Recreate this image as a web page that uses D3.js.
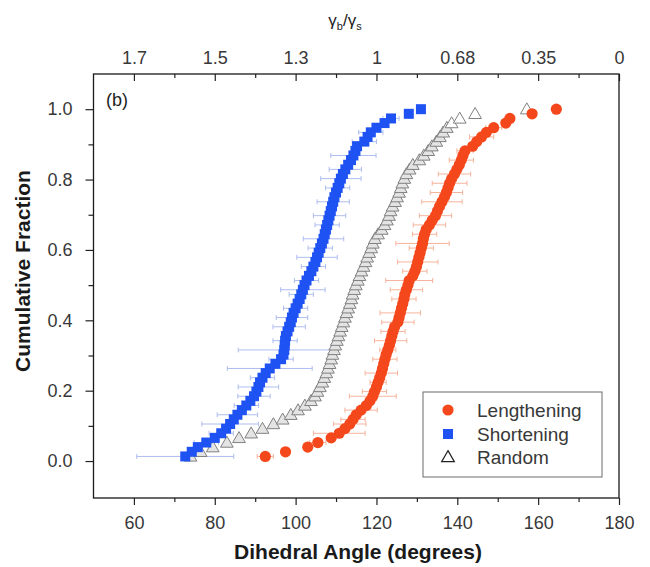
<!DOCTYPE html>
<html>
<head>
<meta charset="utf-8">
<script src="https://cdn.jsdelivr.net/npm/d3@7/dist/d3.min.js"></script>
<style>
  body { margin: 0; background: #fff; }
  svg text { font-family: "Liberation Sans", Arial, Helvetica, sans-serif; }
</style>
</head>
<body>
<svg id="chart" width="650" height="567"></svg>
<script>
// Axis ticks
const angleTicks = [60, 80, 100, 120, 140, 160, 180];
const angleMinorTicks = [70, 90, 110, 130, 150, 170];
const ratioLabels = ["1.7", "1.5", "1.3", "1", "0.68", "0.35", "0"];
const fractionTicks = [0, 0.2, 0.4, 0.6, 0.8, 1.0];
const fractionMinorTicks = [0.1, 0.3, 0.5, 0.7, 0.9];
const seriesNames = ["Lengthening", "Shortening", "Random"];

// Sorted dihedral angles (degrees) for each set of junctions
const lengtheningAngles = [
  92.5, 97.5, 103.0, 105.5, 108.8, 110.8, 112.2, 113.4, 114.2, 115.0,
  116.2, 117.5, 118.4, 119.1, 119.5, 120.0, 120.4, 120.8, 121.2, 121.5,
  121.8, 122.1, 122.4, 122.8, 123.2, 123.5, 123.8, 124.1, 124.5, 125.3,
  125.6, 125.9, 126.2, 126.5, 126.8, 127.0, 127.4, 127.8, 128.1, 129.0,
  129.5, 129.9, 130.2, 130.5, 130.8, 131.1, 131.4, 131.6, 131.9, 132.3,
  133.1, 133.8, 134.6, 135.1, 135.6, 136.2, 136.8, 137.3, 137.7, 138.1,
  138.6, 139.3, 139.9, 140.5, 141.0, 141.4, 141.9, 143.8, 144.8, 146.0,
  147.2, 149.0, 152.0, 153.0, 158.5, 164.5
];
const lengtheningErrors = [
  2, 0, 0, 2, 0, 6.4, 0, 4, 3, 0,
  4, 0, 0, 5.8, 3, 0, 2, 0, 4, 0,
  0, 3, 0, 2, 0, 4, 0, 3, 0, 4,
  0, 5, 0, 0, 3, 0, 4, 0, 5.8, 0,
  3, 0, 5, 0, 0, 3, 6.6, 0, 3, 0,
  4, 0, 4, 0, 0, 5, 0, 4, 0, 4.3,
  0, 4, 0, 0, 3, 0, 2, 0, 0, 3,
  0, 2, 0, 0, 0, 0
];

const shorteningAngles = [
  72.7, 74.3, 75.8, 77.9, 80.0, 81.6, 82.8, 83.8, 84.7, 85.6,
  86.7, 87.8, 88.8, 89.7, 90.3, 90.8, 91.2, 91.8, 92.6, 93.6,
  95.0, 96.4, 97.0, 97.2, 97.3, 97.4, 97.6, 98.0, 98.4, 98.8,
  99.1, 99.5, 100.0, 100.5, 101.0, 101.4, 101.8, 102.2, 102.7, 103.3,
  103.9, 104.4, 104.9, 105.3, 105.7, 106.1, 106.5, 106.9, 107.2, 107.5,
  107.8, 108.1, 108.4, 108.7, 109.0, 109.3, 109.6, 110.0, 110.4, 110.8,
  111.2, 111.7, 112.3, 113.0, 113.7, 114.3, 114.8, 115.2, 117.0, 117.8,
  118.6, 120.0, 122.0, 123.6, 128.0, 131.0
];
const shorteningErrors = [
  12, 0, 0, 3, 0, 3, 0, 7, 0, 5,
  0, 3, 0, 4, 0, 5, 0, 3, 0, 10.5,
  0, 3, 0, 11.4, 0, 3, 0, 0, 4, 0,
  3.9, 0, 3, 0, 0, 3, 5.5, 0, 3, 0,
  0, 3, 0, 5, 0, 3, 0, 5, 0, 0,
  3, 0, 4, 0, 0, 4, 0, 0, 3, 0,
  5, 0, 4, 0, 0, 5.6, 0, 0, 3, 0,
  3, 0, 0, 2, 0, 0
];

const randomAngles = [
  74.0, 76.5, 79.5, 83.0, 86.0, 89.0, 91.8, 94.5, 96.8, 98.8,
  100.6, 102.3, 103.8, 104.8, 105.4, 106.0, 106.6, 107.1, 107.6, 108.0,
  108.4, 108.8, 109.1, 109.5, 109.8, 110.2, 110.6, 111.0, 111.4, 111.8,
  112.2, 112.6, 113.0, 113.4, 113.8, 114.1, 114.5, 114.9, 115.4, 115.8,
  116.3, 116.8, 117.3, 117.7, 118.2, 118.7, 119.1, 119.6, 120.4, 121.3,
  122.0, 122.6, 123.1, 123.5, 124.0, 124.6, 125.1, 125.6, 126.0, 126.4,
  126.9, 127.4, 128.2, 129.0, 130.6, 131.7, 132.8, 133.7, 134.8, 135.7,
  136.5, 137.4, 138.6, 140.6, 144.4, 157.2
];

const colors = { Lengthening: "#f4481c", Shortening: "#1f52f2", Random: "#808080" };
const barColors = { Lengthening: "#f7b39c", Shortening: "#aebdf0" };

// Empirical cumulative fraction: rank / count for each sorted angle
function cumulative(angles, errors) {
  const n = angles.length;
  return angles.map((a, i) => ({ angle: a, frac: (i + 1) / n, err: errors ? (errors[i] || 0) : 0 }));
}

const data = {
  Lengthening: cumulative(lengtheningAngles, lengtheningErrors),
  Shortening: cumulative(shorteningAngles, shorteningErrors),
  Random: cumulative(randomAngles, null)
};

const svg = d3.select("#chart");
const plotLeft = 93.5, plotRight = 619, plotTop = 74, plotBottom = 498;

const x = d3.scaleLinear().domain([50, 180]).range([plotLeft, plotRight]);
const y = d3.scaleLinear().domain([-0.105, 1.1]).range([plotBottom, plotTop]);

const tickColor = "#222";
const labelColor = "#383838";

// Bottom axis (ticks outward)
const gB = svg.append("g").attr("transform", `translate(0,${plotBottom})`);
gB.call(d3.axisBottom(x).tickValues(angleTicks).tickSize(7).tickPadding(11).tickFormat(d3.format("d")));
gB.append("g").call(d3.axisBottom(x).tickValues(angleMinorTicks).tickSize(4).tickFormat(""));

// Top axis: gamma ratio labels on the same positions, ticks inward
const gT = svg.append("g").attr("transform", `translate(0,${plotTop})`);
gT.call(d3.axisTop(x).tickValues(angleTicks).tickSize(-7).tickPadding(10).tickFormat((d, i) => ratioLabels[i]));
gT.append("g").call(d3.axisTop(x).tickValues(angleMinorTicks).tickSize(-4).tickFormat(""));

// Left axis (ticks outward)
const gL = svg.append("g").attr("transform", `translate(${plotLeft},0)`);
gL.call(d3.axisLeft(y).tickValues(fractionTicks).tickSize(8).tickPadding(13).tickFormat(d3.format(".1f")));
gL.append("g").call(d3.axisLeft(y).tickValues(fractionMinorTicks).tickSize(5).tickFormat(""));

svg.selectAll(".domain").remove();
svg.selectAll(".tick line").attr("stroke", tickColor).attr("stroke-width", 1.2);
svg.selectAll(".tick text").attr("font-size", 18).attr("fill", labelColor);

// Plot frame
svg.append("rect")
  .attr("x", plotLeft).attr("y", plotTop)
  .attr("width", plotRight - plotLeft).attr("height", plotBottom - plotTop)
  .attr("fill", "none").attr("stroke", "#1a1a1a").attr("stroke-width", 1.3);

// Error bars
const bars = svg.append("g");
["Shortening", "Lengthening"].forEach(name => {
  const pts = data[name].filter(d => d.err > 0);
  const g = bars.append("g").attr("stroke", barColors[name]).attr("stroke-width", 1).attr("fill", "none");
  g.selectAll("path").data(pts).join("path")
    .attr("d", d => {
      const x0 = x(d.angle - d.err), x1 = x(d.angle + d.err), yy = y(d.frac);
      return `M${x0},${yy}H${x1}M${x0},${yy - 2.5}V${yy + 2.5}M${x1},${yy - 2.5}V${yy + 2.5}`;
    });
});

// Random: open triangles, stacked into a grey band where dense
const tri = d3.symbol().type(d3.symbolTriangle).size(70);
svg.append("g").selectAll("path").data(data.Random).join("path")
  .attr("transform", d => `translate(${x(d.angle)},${y(d.frac) + 1})`)
  .attr("d", tri)
  .attr("fill", d => d.frac > 0.96 ? "#fff" : "#e4e4e4")
  .attr("stroke", colors.Random).attr("stroke-width", 1);

// Shortening: filled squares
svg.append("g").selectAll("rect").data(data.Shortening).join("rect")
  .attr("x", d => x(d.angle) - 5).attr("y", d => y(d.frac) - 5)
  .attr("width", 10).attr("height", 10)
  .attr("fill", colors.Shortening);

// Lengthening: filled circles
svg.append("g").selectAll("circle").data(data.Lengthening).join("circle")
  .attr("cx", d => x(d.angle)).attr("cy", d => y(d.frac)).attr("r", 5.6)
  .attr("fill", colors.Lengthening);

// Panel label
svg.append("text").attr("x", 106).attr("y", 106).attr("font-size", 18).attr("fill", "#222").text("(b)");

// Axis titles
svg.append("text")
  .attr("x", 358).attr("y", 559)
  .attr("text-anchor", "middle").attr("font-size", 21).attr("font-weight", "bold").attr("fill", "#1a1a1a")
  .text("Dihedral Angle (degrees)");

svg.append("text")
  .attr("transform", `translate(30,271) rotate(-90)`)
  .attr("text-anchor", "middle").attr("font-size", 21).attr("font-weight", "bold").attr("fill", "#1a1a1a")
  .text("Cumulative Fraction");

const topTitle = svg.append("text")
  .attr("x", 345).attr("y", 26)
  .attr("text-anchor", "middle").attr("font-size", 17).attr("fill", "#222");
topTitle.append("tspan").text("γ");
topTitle.append("tspan").attr("font-size", 11).attr("dy", 4).text("b");
topTitle.append("tspan").attr("dy", -4).text("/γ");
topTitle.append("tspan").attr("font-size", 11).attr("dy", 4).text("s");

// Legend
const legend = svg.append("g");
legend.append("rect")
  .attr("x", 423).attr("y", 392).attr("width", 179).attr("height", 85)
  .attr("fill", "#fff").attr("stroke", "#6a6a6a").attr("stroke-width", 1);
const rows = [410, 434, 457];
seriesNames.forEach((name, i) => {
  const cy = rows[i], cx = 448;
  if (name === "Lengthening") {
    legend.append("circle").attr("cx", cx).attr("cy", cy).attr("r", 5.6).attr("fill", colors.Lengthening);
  } else if (name === "Shortening") {
    legend.append("rect").attr("x", cx - 5).attr("y", cy - 5).attr("width", 10).attr("height", 10).attr("fill", colors.Shortening);
  } else {
    legend.append("path").attr("transform", `translate(${cx},${cy + 1})`)
      .attr("d", d3.symbol().type(d3.symbolTriangle).size(70))
      .attr("fill", "#fff").attr("stroke", "#222").attr("stroke-width", 1.2);
  }
  legend.append("text").attr("x", 477).attr("y", cy).attr("dy", "0.35em")
    .attr("font-size", 19).attr("fill", labelColor).text(name);
});
</script>
</body>
</html>
